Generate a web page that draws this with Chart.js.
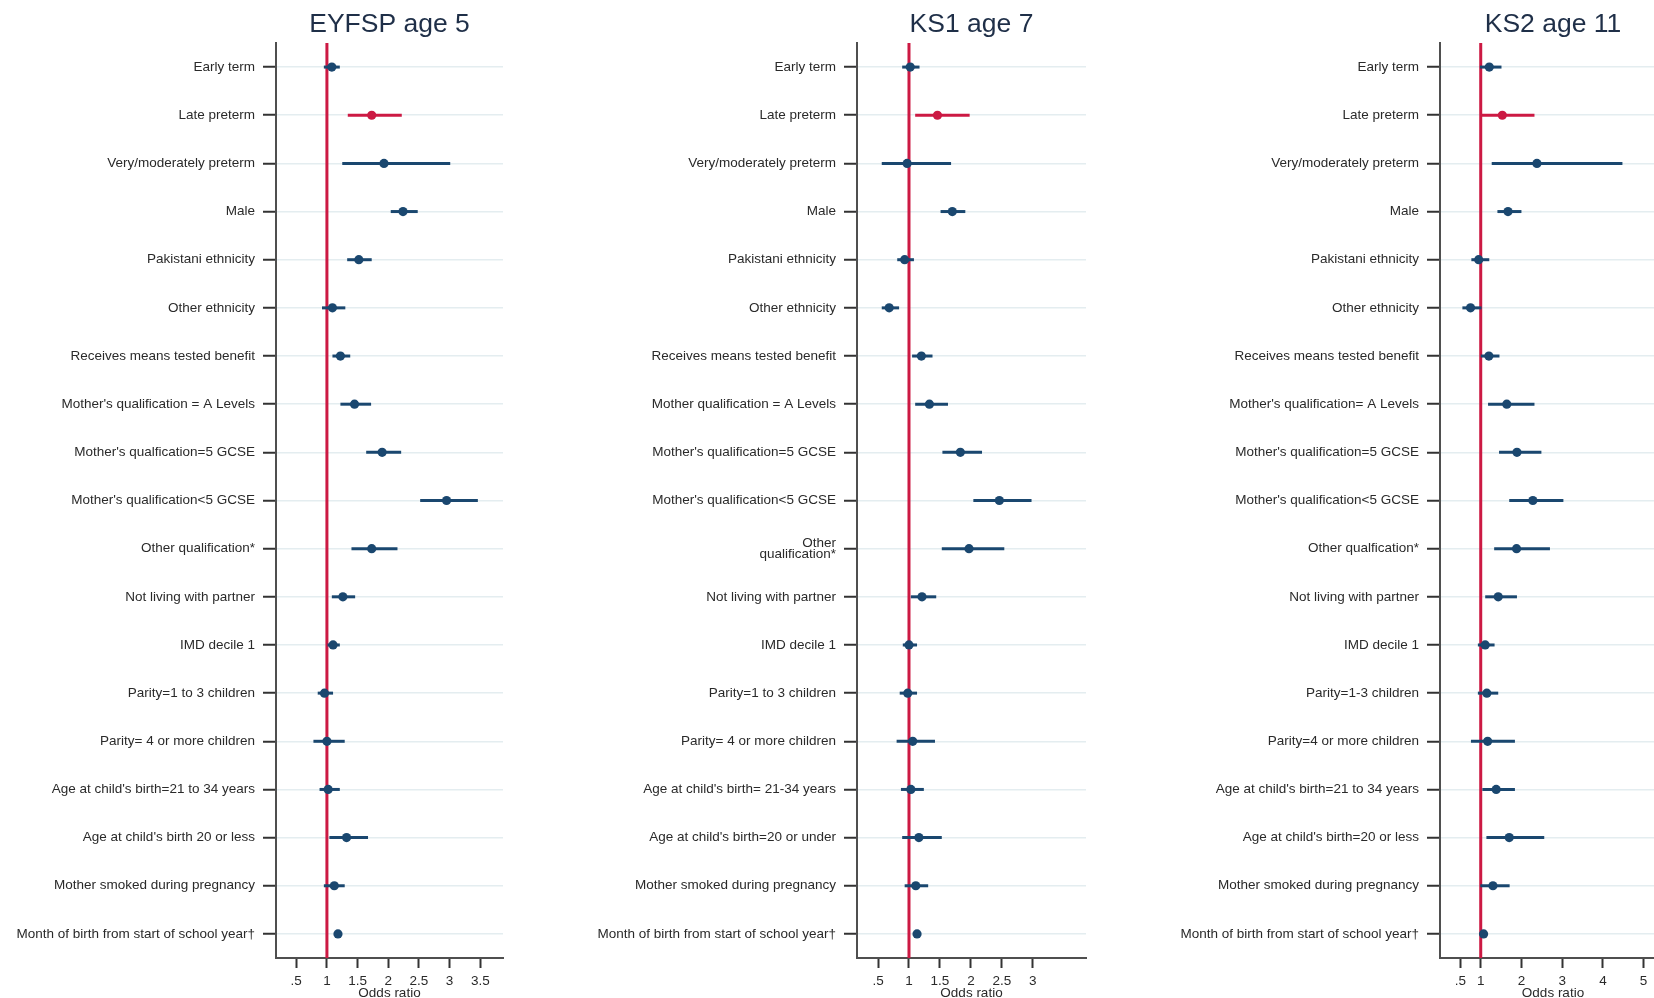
<!DOCTYPE html>
<html>
<head>
<meta charset="utf-8">
<script src="https://cdn.jsdelivr.net/npm/chart.js@4/dist/chart.umd.min.js"></script>
<style>
  html, body { margin: 0; padding: 0; background: #fff; overflow: hidden; width: 1654px; height: 998px; }
  canvas { position: absolute; top: 0; }
</style>
</head>
<body>
<canvas id="eyfsp" width="520" height="1010" style="left:0px"></canvas>
<canvas id="ks1" width="540" height="1010" style="left:560px"></canvas>
<canvas id="ks2" width="570" height="1010" style="left:1110px"></canvas>
<script>
// ---- Row labels ----
const eyfspLabels = [
  'Early term', 'Late preterm', 'Very/moderately preterm', 'Male', 'Pakistani ethnicity',
  'Other ethnicity', 'Receives means tested benefit', "Mother's qualification = A Levels",
  "Mother's qualfication=5 GCSE", "Mother's qualification<5 GCSE", 'Other qualification*',
  'Not living with partner', 'IMD decile 1', 'Parity=1 to 3 children', 'Parity= 4 or more children',
  "Age at child's birth=21 to 34 years", "Age at child's birth 20 or less",
  'Mother smoked during pregnancy', 'Month of birth from start of school year\u2020'
];
const ks1Labels = [
  'Early term', 'Late preterm', 'Very/moderately preterm', 'Male', 'Pakistani ethnicity',
  'Other ethnicity', 'Receives means tested benefit', 'Mother qualification = A Levels',
  "Mother's qualification=5 GCSE", "Mother's qualification<5 GCSE", ['Other', 'qualification*'],
  'Not living with partner', 'IMD decile 1', 'Parity=1 to 3 children', 'Parity= 4 or more children',
  "Age at child's birth= 21-34 years", "Age at child's birth=20 or under",
  'Mother smoked during pregnancy', 'Month of birth from start of school year\u2020'
];
const ks2Labels = [
  'Early term', 'Late preterm', 'Very/moderately preterm', 'Male', 'Pakistani ethnicity',
  'Other ethnicity', 'Receives means tested benefit', "Mother's qualification= A Levels",
  "Mother's qualification=5 GCSE", "Mother's qualification<5 GCSE", 'Other qualfication*',
  'Not living with partner', 'IMD decile 1', 'Parity=1-3 children', 'Parity=4 or more children',
  "Age at child's birth=21 to 34 years", "Age at child's birth=20 or less",
  'Mother smoked during pregnancy', 'Month of birth from start of school year\u2020'
];

// ---- Odds ratios with 95% confidence limits ----
const eyfspOR = [1.08, 1.73, 1.93, 2.24, 1.52, 1.09, 1.22, 1.45, 1.90, 2.95, 1.73, 1.26, 1.10, 0.96, 1.00, 1.02, 1.32, 1.12, 1.18];
const eyfspLo = [0.95, 1.34, 1.25, 2.04, 1.33, 0.92, 1.09, 1.22, 1.64, 2.52, 1.40, 1.08, 1.01, 0.85, 0.78, 0.88, 1.04, 0.95, 1.15];
const eyfspHi = [1.21, 2.22, 3.01, 2.48, 1.73, 1.30, 1.38, 1.72, 2.21, 3.46, 2.15, 1.46, 1.21, 1.10, 1.29, 1.21, 1.67, 1.29, 1.22];

const ks1OR = [1.02, 1.46, 0.97, 1.70, 0.93, 0.68, 1.20, 1.33, 1.83, 2.46, 1.97, 1.21, 1.00, 0.98, 1.06, 1.03, 1.16, 1.11, 1.13];
const ks1Lo = [0.89, 1.10, 0.56, 1.51, 0.81, 0.56, 1.05, 1.10, 1.54, 2.04, 1.53, 1.03, 0.90, 0.85, 0.80, 0.87, 0.89, 0.93, 1.10];
const ks1Hi = [1.17, 1.98, 1.68, 1.91, 1.08, 0.84, 1.38, 1.63, 2.18, 2.98, 2.54, 1.44, 1.13, 1.13, 1.42, 1.24, 1.53, 1.31, 1.16];

const ks2OR = [1.21, 1.53, 2.38, 1.67, 0.95, 0.75, 1.20, 1.64, 1.89, 2.28, 1.88, 1.43, 1.11, 1.15, 1.17, 1.38, 1.70, 1.30, 1.07];
const ks2Lo = [0.98, 1.03, 1.27, 1.41, 0.77, 0.55, 1.00, 1.18, 1.45, 1.70, 1.33, 1.11, 0.93, 0.93, 0.76, 1.04, 1.14, 0.99, 1.04];
const ks2Hi = [1.51, 2.32, 4.48, 2.00, 1.21, 1.02, 1.46, 2.32, 2.49, 3.03, 2.70, 1.89, 1.34, 1.43, 1.84, 1.84, 2.56, 1.71, 1.10];

// ---- Axis tick values ----
const eyfspTicks = [0.5, 1, 1.5, 2, 2.5, 3, 3.5];
const ks1Ticks = [0.5, 1, 1.5, 2, 2.5, 3];
const ks2Ticks = [0.5, 1, 2, 3, 4, 5];

const NULL_OR = 1;          // reference line: odds ratio of 1
const HIGHLIGHT_ROW = 1;    // "Late preterm" is shown in red

const NAVY = '#1a476f';
const RED = '#cc1943';
const FONT = "'Liberation Sans', Arial, sans-serif";

// Panel title drawn centred over the plot area
const panelTitle = {
  id: 'panelTitle',
  afterDraw(chart, args, opts) {
    const { ctx, chartArea } = chart;
    ctx.save();
    ctx.font = `26.5px ${FONT}`;
    ctx.fillStyle = '#1f2f48';
    ctx.textAlign = 'center';
    ctx.textBaseline = 'alphabetic';
    ctx.fillText(opts.text, (chartArea.left + chartArea.right) / 2, 32);
    ctx.restore();
  }
};

function fmtTick(v) {
  return v < 1 ? '.' + String(v).split('.')[1] : String(v);
}

function makePanel(id, title, labels, or, lo, hi, xTicks, xMin, xMax, axisWidth, padRight) {
  const n = labels.length;
  const rowColor = labels.map((_, i) => (i === HIGHLIGHT_ROW ? RED : NAVY));

  const ciData = [];
  for (let i = 0; i < n; i++) {
    ciData.push({ x: lo[i], y: i + 1 }, { x: hi[i], y: i + 1 }, { x: null, y: i + 1 });
  }
  const pointData = or.map((v, i) => ({ x: v, y: i + 1 }));
  const refLine = [{ x: NULL_OR, y: 0.5 }, { x: NULL_OR, y: n + 0.5 }];

  new Chart(document.getElementById(id), {
    type: 'scatter',
    data: {
      datasets: [
        {
          type: 'line', data: refLine, borderColor: RED, borderWidth: 3,
          pointRadius: 0, fill: false, order: 3
        },
        {
          type: 'line', data: ciData, borderColor: NAVY, borderWidth: 3, spanGaps: false,
          pointRadius: 0, fill: false, order: 2,
          segment: { borderColor: ctx => rowColor[ctx.p0.parsed.y - 1] }
        },
        {
          type: 'scatter', data: pointData, pointRadius: 4.6, pointBorderWidth: 0,
          pointBackgroundColor: rowColor, order: 1
        }
      ]
    },
    options: {
      responsive: false,
      animation: false,
      devicePixelRatio: 1,
      layout: { padding: { top: 43, bottom: 0, left: 0, right: padRight } },
      plugins: {
        legend: { display: false },
        tooltip: { enabled: false },
        panelTitle: { text: title }
      },
      scales: {
        x: {
          type: 'linear', min: xMin, max: xMax,
          afterBuildTicks: s => { s.ticks = xTicks.map(v => ({ value: v })); },
          afterFit: s => { s.height = 52; },
          ticks: {
            autoSkip: false, maxRotation: 0, padding: 5, color: '#2a2a2a',
            font: { family: FONT, size: 13.5 }, callback: v => fmtTick(v)
          },
          grid: {
            drawOnChartArea: false, drawTicks: true, tickLength: 10,
            tickColor: '#333', tickWidth: 2
          },
          border: { display: true, color: '#4f4f4f', width: 2 },
          title: {
            display: true, text: 'Odds ratio', color: '#2a2a2a',
            font: { family: FONT, size: 13.5 }, padding: { top: 0, bottom: 9 }
          }
        },
        y: {
          type: 'linear', reverse: true, min: 0.5, max: n + 0.5,
          afterBuildTicks: s => { s.ticks = labels.map((_, i) => ({ value: i + 1 })); },
          afterFit: s => { s.width = axisWidth; },
          ticks: {
            autoSkip: false, padding: 8, color: '#2a2a2a',
            font: { family: FONT, size: 13.5, lineHeight: 0.85 },
            callback: v => labels[v - 1]
          },
          grid: {
            color: '#e4edf0', lineWidth: 1.5, drawTicks: true, tickLength: 13,
            tickColor: '#333', tickWidth: 2
          },
          border: { display: true, color: '#4f4f4f', width: 2 }
        }
      }
    },
    plugins: [panelTitle]
  });
}

makePanel('eyfsp', 'EYFSP age 5', eyfspLabels, eyfspOR, eyfspLo, eyfspHi, eyfspTicks, 0.17, 3.87, 276, 17);
makePanel('ks1', 'KS1 age 7', ks1Labels, ks1OR, ks1Lo, ks1Hi, ks1Ticks, 0.16, 3.86, 297, 14);
makePanel('ks2', 'KS2 age 11', ks2Labels, ks2OR, ks2Lo, ks2Hi, ks2Ticks, 0.0, 5.55, 330, 14);
</script>
</body>
</html>
